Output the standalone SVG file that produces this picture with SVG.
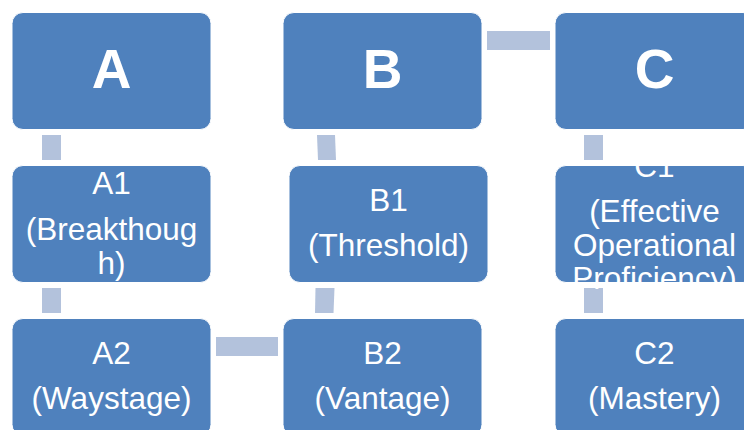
<svg xmlns="http://www.w3.org/2000/svg" width="744" height="430" viewBox="0 0 744 430">
<style>
.box{fill:#4F81BD;stroke:#FFFFFF;stroke-width:1}
.conn{fill:#B3C2DC}
.big{font-family:"Liberation Sans",Arial,sans-serif;font-weight:bold;font-size:55px;fill:#FFFFFF;text-anchor:middle}
.lbl{font-family:"Liberation Sans",Arial,sans-serif;font-size:31.5px;fill:#FFFFFF;text-anchor:middle}
</style>
<rect width="744" height="430" fill="#FFFFFF"/>
<g id="connectors">
<rect class="conn" x="42" y="135" width="19" height="25"/>
<polygon class="conn" points="317,135 335,135 336,160 318,160"/>
<rect class="conn" x="487" y="31" width="63" height="19"/>
<rect class="conn" x="584" y="135" width="19" height="25"/>
<rect class="conn" x="42" y="288" width="19" height="25"/>
<polygon class="conn" points="315.5,288 334.5,288 333.5,313 315,313"/>
<rect class="conn" x="584" y="288" width="19" height="25"/>
<rect class="conn" x="216" y="337" width="62" height="19"/>
</g>
<g id="node-A">
<rect class="box" x="12" y="12.5" width="199" height="117" rx="11"/>
<text class="big" x="111.5" y="88">A</text>
</g>
<g id="node-B">
<rect class="box" x="283" y="12.5" width="199" height="117" rx="11"/>
<text class="big" x="382.5" y="88">B</text>
</g>
<g id="node-C">
<rect class="box" x="555" y="12.5" width="199" height="117" rx="11"/>
<text class="big" x="654.5" y="88">C</text>
</g>
<g id="node-A1">
<rect class="box" x="12" y="165.5" width="199" height="117" rx="11"/>
<text class="lbl" x="111.5" y="194">A1</text>
<text class="lbl" x="111.5" y="240">(Breakthoug</text>
<text class="lbl" x="111.5" y="273.5">h)</text>
</g>
<g id="node-B1">
<rect class="box" x="289" y="165.5" width="199" height="117" rx="11"/>
<text class="lbl" x="388.5" y="211">B1</text>
<text class="lbl" x="388.5" y="256">(Threshold)</text>
</g>
<g id="node-C1">
<rect class="box" x="555" y="165.5" width="199" height="117" rx="11"/>
<text class="lbl" x="654.5" y="177">C1</text>
<text class="lbl" x="654.5" y="222">(Effective</text>
<text class="lbl" x="654.5" y="255.5">Operational</text>
<text class="lbl" x="654.5" y="289">Proficiency)</text>
</g>
<g id="node-A2">
<rect class="box" x="12" y="318.5" width="199" height="117" rx="11"/>
<text class="lbl" x="111.5" y="363.5">A2</text>
<text class="lbl" x="111.5" y="408.5">(Waystage)</text>
</g>
<g id="node-B2">
<rect class="box" x="283" y="318.5" width="199" height="117" rx="11"/>
<text class="lbl" x="382.5" y="363.5">B2</text>
<text class="lbl" x="382.5" y="408.5">(Vantage)</text>
</g>
<g id="node-C2">
<rect class="box" x="555" y="318.5" width="199" height="117" rx="11"/>
<text class="lbl" x="654.5" y="363.5">C2</text>
<text class="lbl" x="654.5" y="408.5">(Mastery)</text>
</g>
</svg>
